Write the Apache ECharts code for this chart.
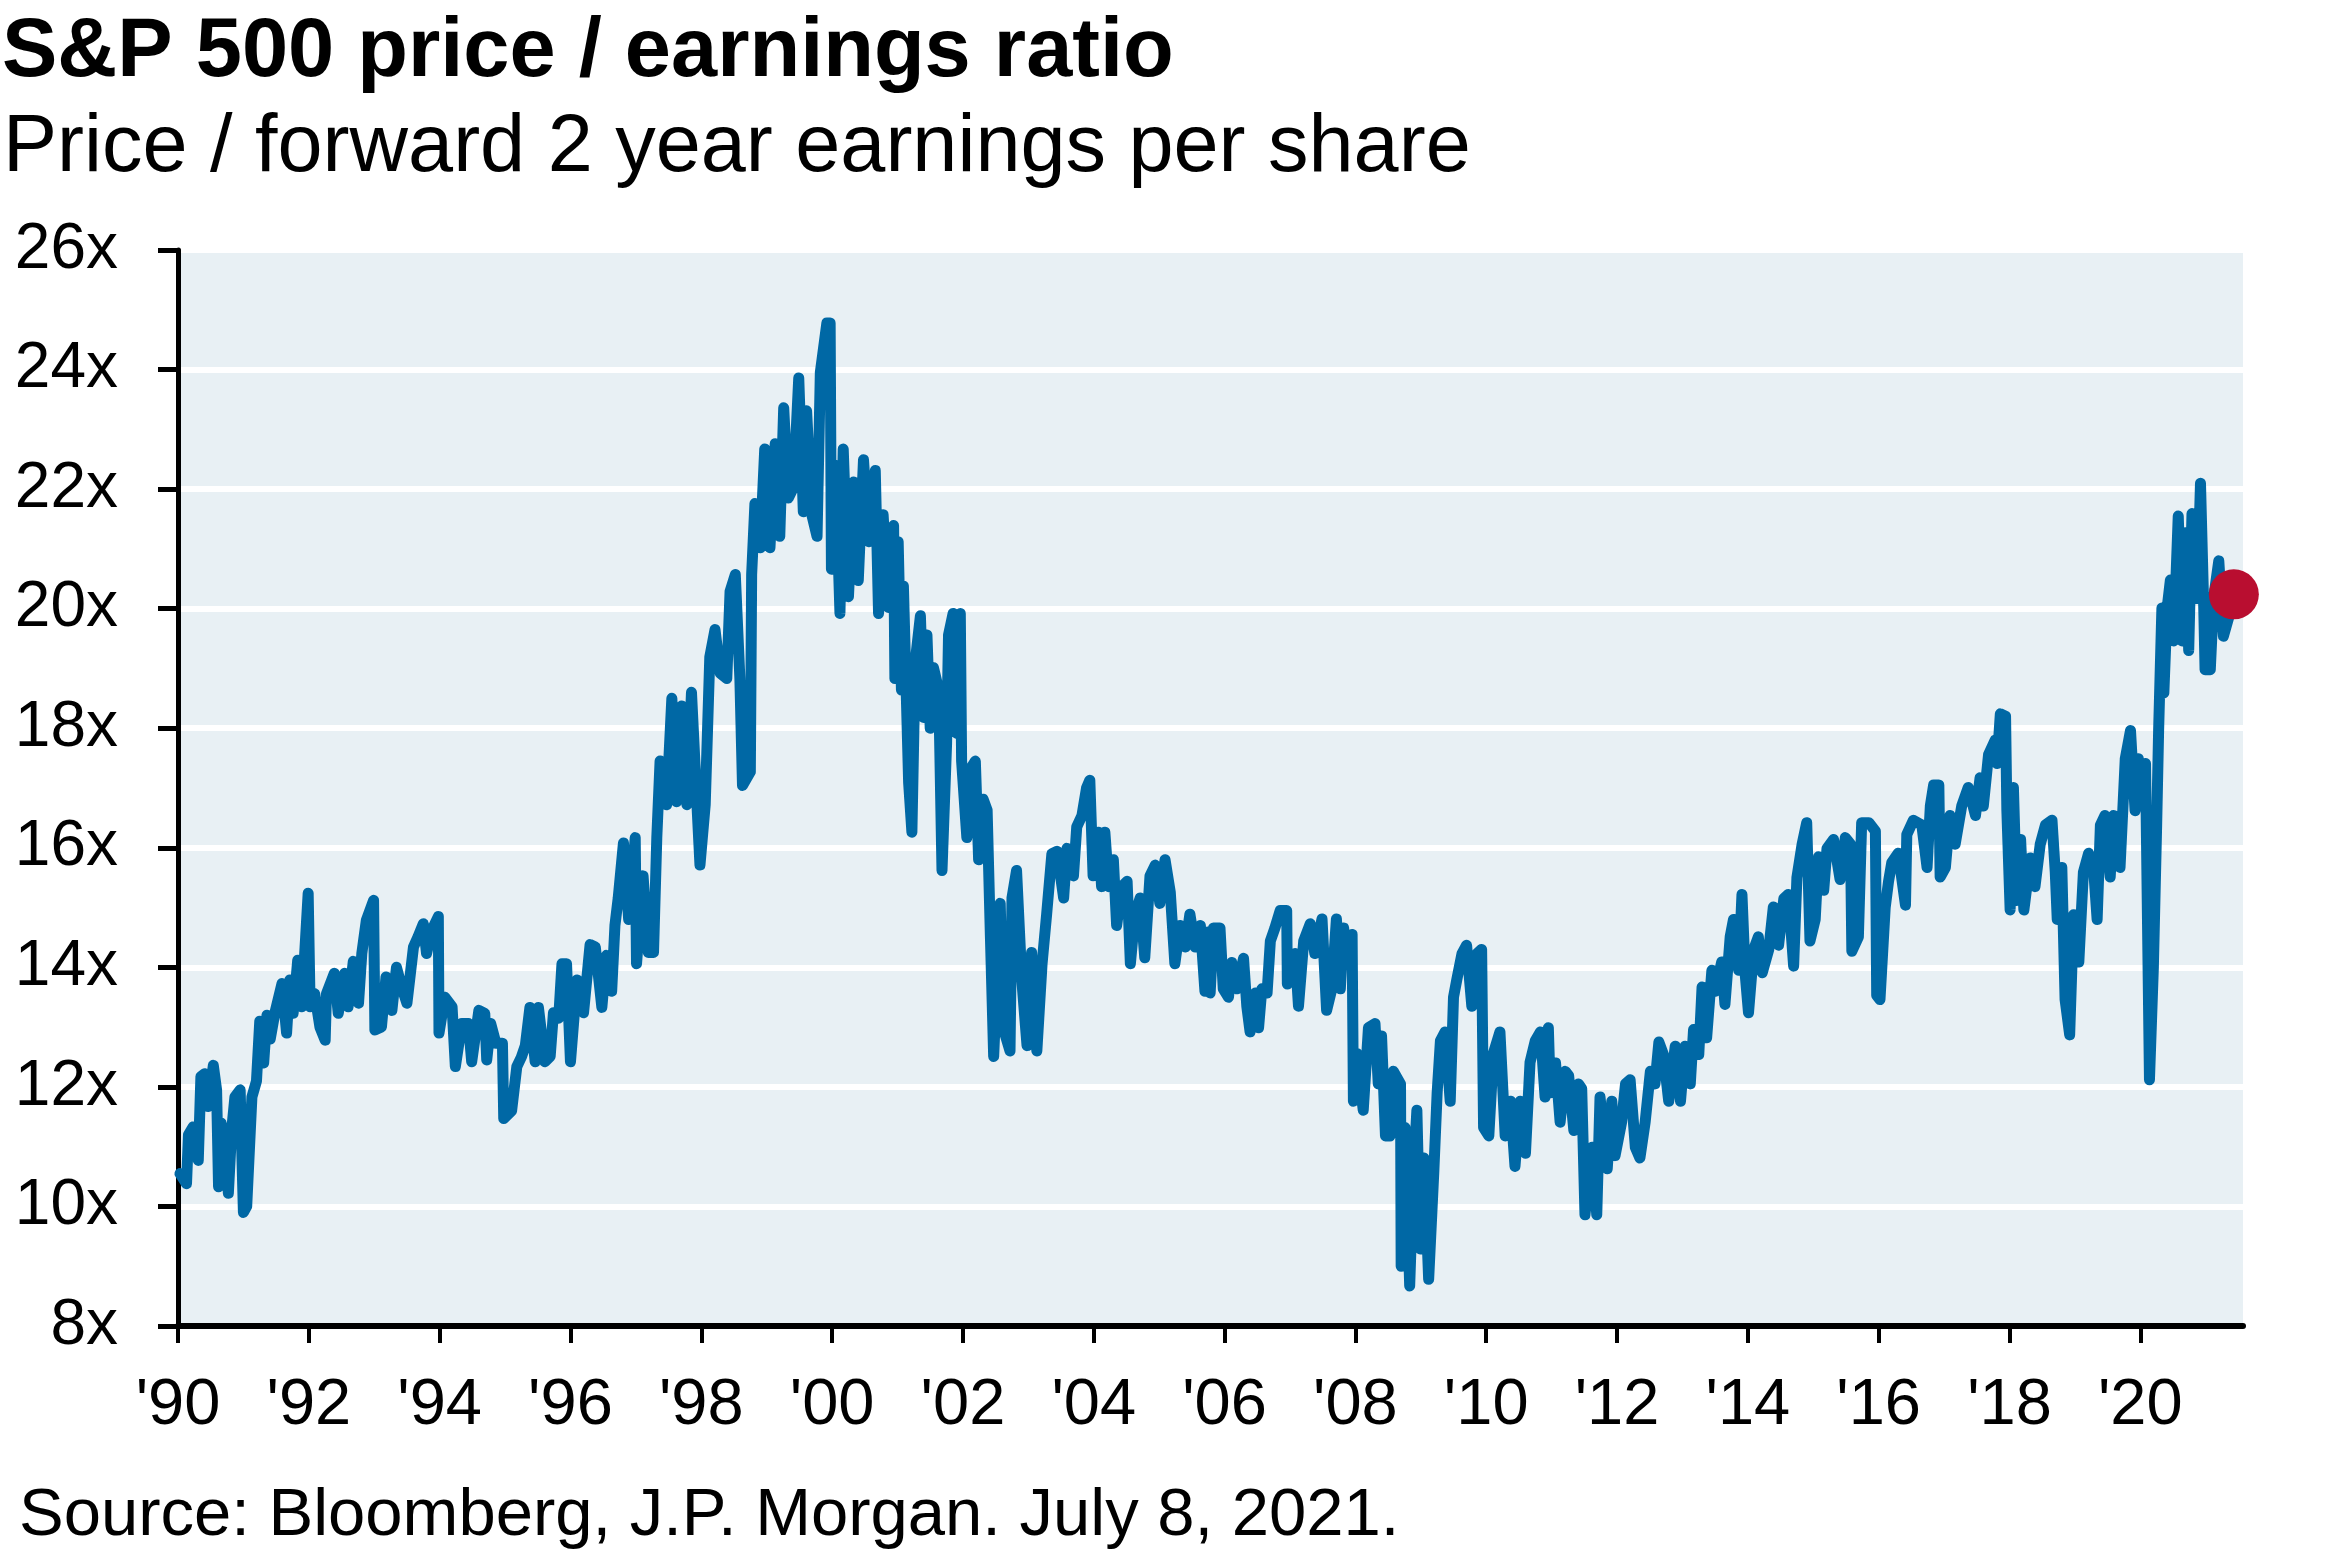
<!DOCTYPE html>
<html>
<head>
<meta charset="utf-8">
<script src="https://cdn.jsdelivr.net/npm/echarts@6/dist/echarts.min.js"></script>
<style>
html,body{margin:0;padding:0;background:#fff;}
#chart{width:2341px;height:1561px;}
</style>
</head>
<body>
<div id="chart"></div>
<script>
// Decimal year of each observation
var years = [
1990.03,1990.13,1990.16,1990.23,1990.31,1990.35,1990.41,1990.46,1990.54,1990.59,1990.62,1990.66,1990.72,1990.77,1990.82,1990.87,1990.95,
1991.00,1991.05,1991.13,1991.20,1991.25,1991.31,1991.36,1991.41,1991.48,1991.59,1991.66,1991.71,1991.76,1991.83,1991.89,1991.99,
1992.02,1992.09,1992.17,1992.25,1992.27,1992.39,1992.45,1992.55,1992.60,1992.68,1992.76,1992.81,1992.88,1992.99,
1993.01,1993.11,1993.18,1993.27,1993.34,1993.42,1993.50,1993.60,1993.67,1993.75,1993.80,1993.88,1993.98,1993.99,
1994.08,1994.19,1994.24,1994.34,1994.44,1994.49,1994.60,1994.69,1994.72,1994.78,1994.86,1994.96,1994.98,
1995.10,1995.18,1995.25,1995.31,1995.38,1995.46,1995.51,1995.61,1995.69,1995.74,1995.82,1995.87,1995.94,
1996.00,1996.10,1996.20,1996.30,1996.38,1996.48,1996.55,1996.63,1996.68,1996.73,1996.81,1996.89,1996.99,
1997.01,1997.11,1997.19,1997.27,1997.32,1997.37,1997.47,1997.55,1997.62,1997.70,1997.78,1997.85,1997.93,1997.98,
1998.06,1998.13,1998.21,1998.29,1998.39,1998.44,1998.52,1998.59,1998.63,1998.75,1998.77,1998.82,1998.90,1998.97,
1999.05,1999.13,1999.20,1999.26,1999.33,1999.41,1999.49,1999.56,1999.61,1999.69,1999.77,1999.82,1999.92,1999.97,1999.99,
2000.05,2000.12,2000.17,2000.25,2000.33,2000.40,2000.48,2000.56,2000.66,2000.71,2000.78,2000.86,2000.94,2000.96,
2001.01,2001.06,2001.09,2001.17,2001.22,2001.27,2001.35,2001.40,2001.45,2001.50,2001.55,2001.63,2001.68,2001.75,2001.78,2001.85,2001.91,2001.96,2001.98,
2002.06,2002.14,2002.19,2002.24,2002.31,2002.37,2002.42,2002.47,2002.57,2002.62,2002.72,2002.75,2002.82,2002.90,2002.98,
2003.05,2003.13,2003.21,2003.28,2003.36,2003.44,2003.54,2003.59,2003.69,2003.74,2003.82,2003.89,2003.94,2003.99,
2004.07,2004.12,2004.17,2004.23,2004.30,2004.35,2004.43,2004.51,2004.56,2004.63,2004.71,2004.78,2004.86,2004.94,
2005.01,2005.09,2005.17,2005.24,2005.32,2005.40,2005.47,2005.55,2005.63,2005.70,2005.75,2005.78,2005.83,2005.93,2005.98,
2006.06,2006.11,2006.19,2006.29,2006.34,2006.39,2006.47,2006.52,2006.57,2006.65,2006.70,2006.77,2006.85,2006.95,2006.96,
2007.08,2007.13,2007.21,2007.31,2007.38,2007.49,2007.56,2007.64,2007.71,2007.77,2007.82,2007.87,2007.95,2007.97,
2008.02,2008.12,2008.20,2008.30,2008.35,2008.40,2008.46,2008.53,2008.58,2008.69,2008.70,2008.76,2008.83,2008.89,2008.94,2008.99,
2009.05,2009.12,2009.20,2009.25,2009.30,2009.37,2009.45,2009.50,2009.55,2009.63,2009.70,2009.78,2009.86,2009.93,2009.96,
2010.04,2010.11,2010.21,2010.29,2010.37,2010.44,2010.52,2010.60,2010.67,2010.75,2010.83,2010.90,2010.95,2010.98,
2011.06,2011.13,2011.21,2011.26,2011.34,2011.41,2011.46,2011.51,2011.62,2011.69,2011.74,2011.85,2011.92,2011.97,
2012.07,2012.13,2012.20,2012.28,2012.35,2012.43,2012.51,2012.58,2012.64,2012.71,2012.79,2012.89,2012.97,
2013.04,2013.12,2013.17,2013.25,2013.30,2013.37,2013.45,2013.50,2013.60,2013.65,2013.73,2013.78,2013.86,2013.91,2013.96,
2014.01,2014.09,2014.16,2014.22,2014.32,2014.39,2014.47,2014.55,2014.62,2014.70,2014.75,2014.83,2014.90,2014.95,
2015.03,2015.08,2015.16,2015.21,2015.31,2015.41,2015.49,2015.57,2015.59,2015.69,2015.74,2015.85,2015.95,2015.97,
2016.02,2016.10,2016.15,2016.20,2016.30,2016.41,2016.43,2016.53,2016.66,2016.74,2016.79,2016.84,2016.92,2016.94,
2017.02,2017.09,2017.17,2017.27,2017.37,2017.48,2017.55,2017.60,2017.68,2017.78,2017.81,2017.86,2017.94,2017.96,
2018.01,2018.06,2018.11,2018.17,2018.22,2018.32,2018.39,2018.47,2018.55,2018.65,2018.70,2018.73,2018.80,2018.85,2018.92,2018.98,
2019.06,2019.13,2019.21,2019.29,2019.34,2019.39,2019.46,2019.54,2019.59,2019.69,2019.77,2019.85,2019.92,2019.97,
2020.03,2020.08,2020.14,2020.20,2020.25,2020.28,2020.33,2020.36,2020.41,2020.46,2020.51,2020.58,2020.64,2020.69,2020.74,2020.79,2020.87,2020.92,2020.97,2020.99,
2021.07,2021.12,2021.20,2021.27,2021.35,2021.43
];

// Price / forward 2-year EPS
var peValues = [
10.55,10.38,11.2,11.33,10.77,12.17,12.22,11.67,12.36,11.95,10.33,11.39,11.05,10.22,11.27,11.83,11.95,
9.9,10.0,11.83,12.1,13.1,12.4,13.2,12.8,13.23,13.73,12.9,13.79,13.23,14.12,13.34,15.24,
13.34,13.56,13.0,12.78,13.56,13.9,13.23,13.9,13.34,14.1,13.4,14.23,14.79,15.12,
12.95,13.0,13.84,13.28,14.0,13.67,13.4,14.34,14.51,14.73,14.23,14.62,14.85,12.9,
13.5,13.34,12.34,13.06,13.06,12.42,13.28,13.23,12.45,13.06,12.73,12.73,11.47,
11.6,12.34,12.5,12.69,13.33,12.42,13.33,12.42,12.51,13.24,13.15,14.06,14.06,
12.42,13.79,13.24,14.38,14.34,13.33,14.2,13.6,14.7,15.16,16.08,14.8,16.17,
14.06,15.53,14.25,14.25,16.17,17.45,16.72,18.5,16.77,18.37,16.72,18.6,16.81,15.71,
16.72,19.19,19.65,18.92,18.83,20.29,20.57,18.83,17.04,17.27,20.57,21.76,21.02,22.67,
21.02,22.76,21.21,23.36,21.85,22.03,23.86,21.62,23.31,21.57,21.21,23.95,24.78,24.78,20.66,
22.4,19.92,22.67,20.2,22.12,20.47,22.49,21.12,22.31,19.92,21.57,20.02,21.39,18.83,
21.12,18.64,20.38,17.09,16.26,19.1,19.88,18.18,19.56,18.0,19.01,18.64,15.62,17.73,19.56,19.92,17.91,19.92,17.45,
16.17,17.36,17.45,15.8,16.81,16.63,14.52,12.51,15.07,12.97,12.6,15.16,15.62,13.79,12.69,
14.25,12.6,14.06,14.89,15.9,15.94,15.16,15.99,15.53,16.35,16.54,17.0,17.13,15.53,
16.26,15.35,16.26,15.35,15.8,14.7,15.35,15.44,14.06,14.89,15.16,14.16,15.53,15.71,
15.07,15.8,15.26,14.06,14.7,14.34,14.89,14.34,14.7,13.6,14.59,13.57,14.66,14.66,13.64,
13.5,14.08,13.64,14.15,13.35,12.92,13.57,12.99,13.64,13.57,14.44,14.66,14.95,14.95,13.72,
14.23,13.35,14.44,14.73,14.23,14.81,13.28,13.64,14.81,13.64,14.66,14.08,14.55,11.76,
12.56,11.61,12.99,13.06,12.05,12.85,11.18,11.18,12.26,12.05,9.0,11.32,8.67,10.6,11.61,9.29,
10.81,8.78,10.6,11.9,12.77,12.92,11.76,13.5,13.79,14.23,14.37,13.35,14.23,14.3,11.32,
11.18,12.56,12.92,11.18,11.76,10.67,11.76,10.89,12.41,12.77,12.92,11.83,12.99,11.9,
12.4,11.41,12.26,12.19,11.27,12.05,11.97,9.86,10.99,9.86,11.83,10.63,11.76,10.85,
11.41,12.05,12.12,10.99,10.81,11.41,12.26,12.05,12.75,12.54,11.76,12.68,11.76,
12.68,12.05,12.96,12.54,13.67,12.82,13.95,13.6,14.09,13.38,14.51,14.8,13.95,15.22,13.88,
13.24,14.3,14.51,13.91,14.3,15.01,14.37,15.15,15.22,14.02,15.5,16.06,16.42,14.44,
14.8,15.85,15.29,15.99,16.14,15.47,16.17,16.06,14.27,14.51,16.42,16.42,16.28,13.53,
13.46,15.0,15.43,15.75,15.91,15.04,16.22,16.46,16.38,15.67,16.7,17.05,17.05,15.51,
15.67,16.54,16.06,16.7,17.01,16.54,17.17,16.7,17.56,17.8,17.41,18.24,18.2,16.62,
14.96,17.01,15.12,16.14,14.96,15.83,15.35,16.06,16.38,16.46,15.59,14.8,15.67,13.46,12.87,14.88,
14.09,15.59,15.91,15.59,14.8,16.38,16.54,15.51,16.54,15.67,17.49,17.96,16.62,17.49,
16.7,17.41,12.12,14.01,16.38,17.96,20.01,18.59,20.01,20.48,19.46,21.55,19.46,21.27,19.3,21.59,20.17,22.1,20.01,18.98,
18.98,20.17,20.8,19.54,19.85,20.24
];

var xTickYears = [1990,1992,1994,1996,1998,2000,2002,2004,2006,2008,2010,2012,2014,2016,2018,2020];
var yTickValues = [8,10,12,14,16,18,20,22,24,26];

var titleText = 'S&P 500 price / earnings ratio';
var subtitleText = 'Price / forward 2 year earnings per share';
var sourceText = 'Source: Bloomberg, J.P. Morgan. July 8, 2021.';

var lineData = years.map(function (y, i) { return [y, peValues[i]]; });
var lastPoint = [years[years.length - 1], peValues[peValues.length - 1]];

var FONT = 'Liberation Sans, Arial, Helvetica, sans-serif';

var chart = echarts.init(document.getElementById('chart'), null, { renderer: 'canvas' });
chart.setOption({
  animation: false,
  backgroundColor: '#ffffff',
  title: [
    { text: titleText, left: 2, top: 12, padding: 0,
      textStyle: { fontFamily: FONT, fontWeight: 'bold', fontSize: 83, color: '#000' } },
    { text: subtitleText, left: 3, top: 108, padding: 0,
      textStyle: { fontFamily: FONT, fontWeight: 'normal', fontSize: 81, color: '#000' } },
    { text: sourceText, left: 19, top: 1483, padding: 0,
      textStyle: { fontFamily: FONT, fontWeight: 'normal', fontSize: 67, color: '#000' } }
  ],
  grid: {
    left: 178, right: 98, top: 250, bottom: 235,
    show: true, backgroundColor: '#E8F0F4', borderWidth: 0,
    containLabel: false
  },
  xAxis: {
    type: 'value', min: 1990, max: 2021.57, interval: 2,
    axisLine: { show: true, onZero: false, lineStyle: { color: '#000', width: 6 } },
    axisTick: { show: true, customValues: xTickYears, length: 17, lineStyle: { color: '#000', width: 4 } },
    axisLabel: {
      show: true, customValues: xTickYears, margin: 48,
      fontFamily: FONT, fontSize: 65, color: '#000',
      formatter: function (v) { return "'" + String(Math.round(v)).slice(2); }
    },
    splitLine: { show: false }
  },
  yAxis: {
    type: 'value', min: 8, max: 26, interval: 2,
    axisLine: { show: true, lineStyle: { color: '#000', width: 5 } },
    axisTick: { show: true, customValues: yTickValues, length: 20, lineStyle: { color: '#000', width: 5 } },
    axisLabel: {
      show: true, customValues: yTickValues, margin: 60, fontFamily: FONT, fontSize: 64, color: '#000',
      formatter: '{value}x'
    },
    splitLine: { show: true, lineStyle: { color: '#ffffff', width: 6 } }
  },
  series: [
    {
      type: 'line', data: lineData, showSymbol: false, symbol: 'none',
      lineStyle: { color: '#0068A5', width: 11, cap: 'round', join: 'round', opacity: 1 },
      z: 3
    },
    {
      type: 'scatter', data: [lastPoint], symbol: 'circle', symbolSize: 50,
      itemStyle: { color: '#B90E30', opacity: 1 }, z: 5
    }
  ]
});
</script>
</body>
</html>
